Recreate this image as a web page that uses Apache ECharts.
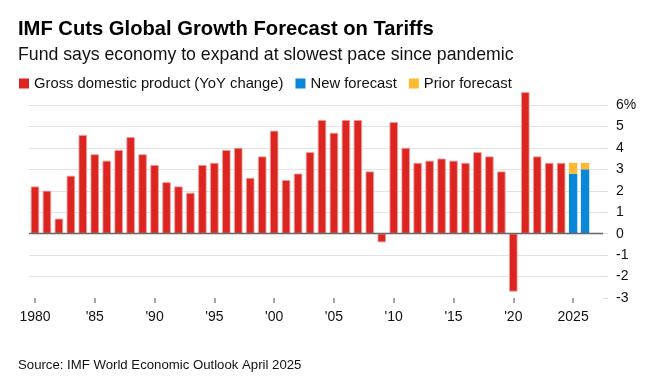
<!DOCTYPE html>
<html>
<head>
<meta charset="utf-8">
<script src="https://cdn.jsdelivr.net/npm/echarts@6/dist/echarts.min.js"></script>
<style>
html,body{margin:0;padding:0;background:#fff;}
#c{width:663px;height:384px;}
</style>
</head>
<body>
<div id="c"></div>
<script>
// Years (the final blank slot is padding on the right of the plot)
const years = [];
for (let y = 1980; y <= 2027; y++) years.push(String(y));

const gdp = [2.2, 2.0, 0.7, 2.7, 4.6, 3.7, 3.4, 3.9, 4.5, 3.7,
             3.2, 2.4, 2.2, 1.9, 3.2, 3.3, 3.9, 4.0, 2.6, 3.6,
             4.8, 2.5, 2.8, 3.8, 5.3, 4.7, 5.3, 5.3, 2.9, -0.4,
             5.2, 4.0, 3.3, 3.4, 3.5, 3.4, 3.3, 3.8, 3.6, 2.9,
             -2.7, 6.6, 3.6, 3.3, 3.3];
const forecastYears = ['2025', '2026'];
const newForecast = [2.8, 3.0];
const priorForecast = [3.3, 3.3];

const xTickLabels = ['1980', "'85", "'90", "'95", "'00", "'05", "'10", "'15", "'20", '2025'];
const yTicks = [-3, -2, -1, 0, 1, 2, 3, 4, 5, 6];

const gdpData = years.map((y, i) => i < gdp.length ? gdp[i] : null);
const newData = years.map(y => {
  const k = forecastYears.indexOf(y);
  return k >= 0 ? newForecast[k] : null;
});
const priorData = years.map(y => {
  const k = forecastYears.indexOf(y);
  return k >= 0 ? +(priorForecast[k] - newForecast[k]).toFixed(2) : null;
});

const FONT = '"Liberation Sans", Arial, sans-serif';
const chart = echarts.init(document.getElementById('c'), null, {renderer: 'canvas'});
chart.setOption({
  animation: false,
  textStyle: {fontFamily: FONT},
  title: [
    {text: 'IMF Cuts Global Growth Forecast on Tariffs', left: 18, top: 19, padding: 0,
     textStyle: {fontFamily: FONT, fontSize: 20.2, fontWeight: 'bold', color: '#000'}},
    {text: 'Fund says economy to expand at slowest pace since pandemic', left: 18, top: 46, padding: 0,
     textStyle: {fontFamily: FONT, fontSize: 17.7, fontWeight: 'normal', color: '#111'}},
    {text: 'Source: IMF World Economic Outlook April 2025', left: 18, top: 359, padding: 0,
     textStyle: {fontFamily: FONT, fontSize: 13.2, fontWeight: 'normal', color: '#111'}}
  ],
  legend: {
    left: 19, top: 76, padding: 0, itemWidth: 10, itemHeight: 10, itemGap: 12,
    icon: 'rect', selectedMode: false,
    itemStyle: {borderWidth: 0},
    textStyle: {fontFamily: FONT, fontSize: 14.8, color: '#111'},
    data: ['Gross domestic product (YoY change)', 'New forecast', 'Prior forecast']
  },
  grid: {left: 29, right: 60, top: 105, bottom: 86, containLabel: false},
  xAxis: {
    type: 'category', data: years, position: 'bottom',
    axisLine: {show: false, onZero: false},
    axisTick: {show: true, interval: 4, alignWithLabel: true, length: 5,
               lineStyle: {color: '#888', width: 1.5}},
    axisLabel: {
      interval: 4, margin: 12, fontSize: 14, color: '#111', fontFamily: FONT,
      formatter: (v, i) => xTickLabels[i / 5] || ''
    },
    splitLine: {show: false}
  },
  yAxis: {
    type: 'value', position: 'right', min: yTicks[0], max: yTicks[yTicks.length - 1], interval: 1,
    axisLine: {show: false},
    axisTick: {show: true, length: 5, lineStyle: {color: '#ddd', width: 1}},
    axisLabel: {
      margin: 13, fontSize: 14, color: '#111', fontFamily: FONT, align: 'left',
      formatter: v => v === yTicks[yTicks.length - 1] ? v + '%' : String(v)
    },
    splitLine: {show: true, showMinLine: false, lineStyle: {color: '#e2e2e2', width: 1}}
  },
  series: [
    {
      name: 'Gross domestic product (YoY change)', type: 'bar', stack: 'a',
      data: gdpData, barWidth: '70%', clip: false,
      itemStyle: {color: '#dc2520', borderColor: '#f19a96', borderWidth: 0.8},
      markLine: {
        silent: true, symbol: 'none', label: {show: false},
        lineStyle: {color: '#666', width: 1.4, type: 'solid'},
        data: [{yAxis: 0}]
      }
    },
    {
      name: 'New forecast', type: 'bar', stack: 'a', data: newData, barWidth: '70%', clip: false,
      itemStyle: {color: '#0a87d9'}
    },
    {
      name: 'Prior forecast', type: 'bar', stack: 'a', data: priorData, barWidth: '70%', clip: false,
      itemStyle: {color: '#fdb92f'}
    }
  ]
});
</script>
</body>
</html>
